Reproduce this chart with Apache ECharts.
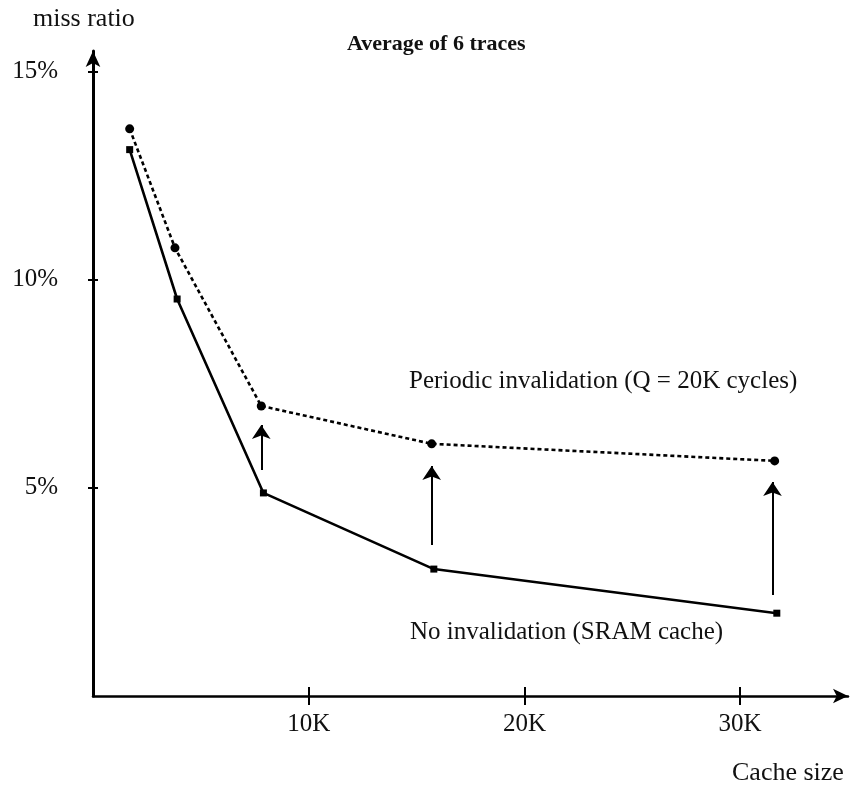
<!DOCTYPE html>
<html>
<head>
<meta charset="utf-8">
<script src="https://cdn.jsdelivr.net/npm/echarts@6/dist/echarts.min.js"></script>
<style>
html,body{margin:0;padding:0;background:#fff;}
#chart{width:856px;height:788px;}
</style>
</head>
<body>
<div id="chart"></div>
<script>
// ---- data (cache size in K, miss ratio in %) ----
const periodicX = [1.7, 3.8, 7.8, 15.7, 31.6];
const periodicY = [13.63, 10.77, 6.97, 6.06, 5.65];
const noInvalX = [1.7, 3.9, 7.9, 15.8, 31.7];
const noInvalY = [13.13, 9.54, 4.88, 3.05, 1.99];
const arrowX = [7.8, 15.7, 31.5];
const arrowFrom = [5.43, 3.63, 2.43];
const arrowTo = [6.51, 5.53, 5.14];
const xTickValues = [10, 20, 30];
const xTickLabels = ['10K', '20K', '30K'];
const yTickValues = [5, 10, 15];
const yTickLabels = ['5%', '10%', '15%'];
const titleText = 'Average of 6 traces';
const periodicName = 'Periodic invalidation (Q = 20K cycles)';
const noInvalName = 'No invalidation (SRAM cache)';
const yName = 'miss ratio';
const xName = 'Cache size';

const FONT = '"Liberation Serif", "Times New Roman", serif';
const chart = echarts.init(document.getElementById('chart'), null, {renderer: 'canvas'});

const pair = (xs, ys) => xs.map((x, i) => [x, ys[i]]);
const arrows = arrowX.map((x, i) => ({coords: [[x, arrowFrom[i]], [x, arrowTo[i]]]}));
const xFmt = v => { const i = xTickValues.indexOf(v); return i >= 0 ? xTickLabels[i] : ''; };
const yFmt = v => { const i = yTickValues.indexOf(v); return i >= 0 ? yTickLabels[i] : ''; };

const xBase = {min: 0, max: 35, gridIndex: 0, type: 'value', splitLine: {show: false}};
const yBase = {min: 0, max: 15.5, gridIndex: 0, type: 'value', splitLine: {show: false}};

chart.setOption({
  animation: false,
  backgroundColor: '#fff',
  title: {
    text: titleText,
    left: 342, top: 28,
    textStyle: {fontFamily: FONT, fontSize: 22, fontWeight: 'bold', color: '#111'}
  },
  grid: {left: 93, right: 8, top: 51, bottom: 92, containLabel: false},
  xAxis: [
    Object.assign({}, xBase, {
      axisLine: {show: true, onZero: false, lineStyle: {color: '#000', width: 2.5}, symbol: ['none', 'arrow'], symbolSize: [11, 15]},
      axisTick: {show: true, inside: false, length: 9, customValues: xTickValues, lineStyle: {color: '#000', width: 2}},
      axisLabel: {
        margin: 16, fontFamily: FONT, fontSize: 25, color: '#111',
        customValues: xTickValues, formatter: xFmt
      }
    }),
    Object.assign({}, xBase, {
      position: 'bottom',
      axisLine: {show: false, onZero: false},
      axisTick: {show: true, inside: true, length: 9, customValues: xTickValues, lineStyle: {color: '#000', width: 2}},
      axisLabel: {show: false}
    })
  ],
  yAxis: [
    Object.assign({}, yBase, {
      axisLine: {show: true, onZero: false, lineStyle: {color: '#000', width: 3}, symbol: ['none', 'arrow'], symbolSize: [11, 16]},
      axisTick: {show: true, inside: false, length: 5, customValues: yTickValues, lineStyle: {color: '#000', width: 2}},
      axisLabel: {
        margin: 35, fontFamily: FONT, fontSize: 25, color: '#111',
        padding: [8, 0, 0, 0],
        customValues: yTickValues, formatter: yFmt
      }
    }),
    Object.assign({}, yBase, {
      position: 'left',
      axisLine: {show: false, onZero: false},
      axisTick: {show: true, inside: true, length: 5, customValues: yTickValues, lineStyle: {color: '#000', width: 2}},
      axisLabel: {show: false}
    })
  ],
  series: [
    {
      type: 'line', name: periodicName,
      data: pair(periodicX, periodicY),
      symbol: 'circle', symbolSize: 9, showAllSymbol: true,
      itemStyle: {color: '#000'},
      lineStyle: {color: '#000', width: 2.6, type: [4, 3]}
    },
    {
      type: 'line', name: noInvalName,
      data: pair(noInvalX, noInvalY),
      symbol: 'rect', symbolSize: 7, showAllSymbol: true,
      itemStyle: {color: '#000'},
      lineStyle: {color: '#000', width: 2.6}
    },
    {
      type: 'lines', coordinateSystem: 'cartesian2d',
      data: arrows,
      symbol: ['none', 'arrow'], symbolSize: 14,
      lineStyle: {color: '#000', width: 2, opacity: 1},
      z: 3
    }
  ],
  graphic: [
    {type: 'text', left: 33, top: 6, style: {text: yName, font: '26px ' + FONT, fill: '#111'}},
    {type: 'text', left: 409, top: 369, style: {text: periodicName, font: '25px ' + FONT, fill: '#111'}},
    {type: 'text', left: 410, top: 620, style: {text: noInvalName, font: '25px ' + FONT, fill: '#111'}},
    {type: 'text', left: 732, top: 760, style: {text: xName, font: '26px ' + FONT, fill: '#111'}}
  ]
});
</script>
</body>
</html>
